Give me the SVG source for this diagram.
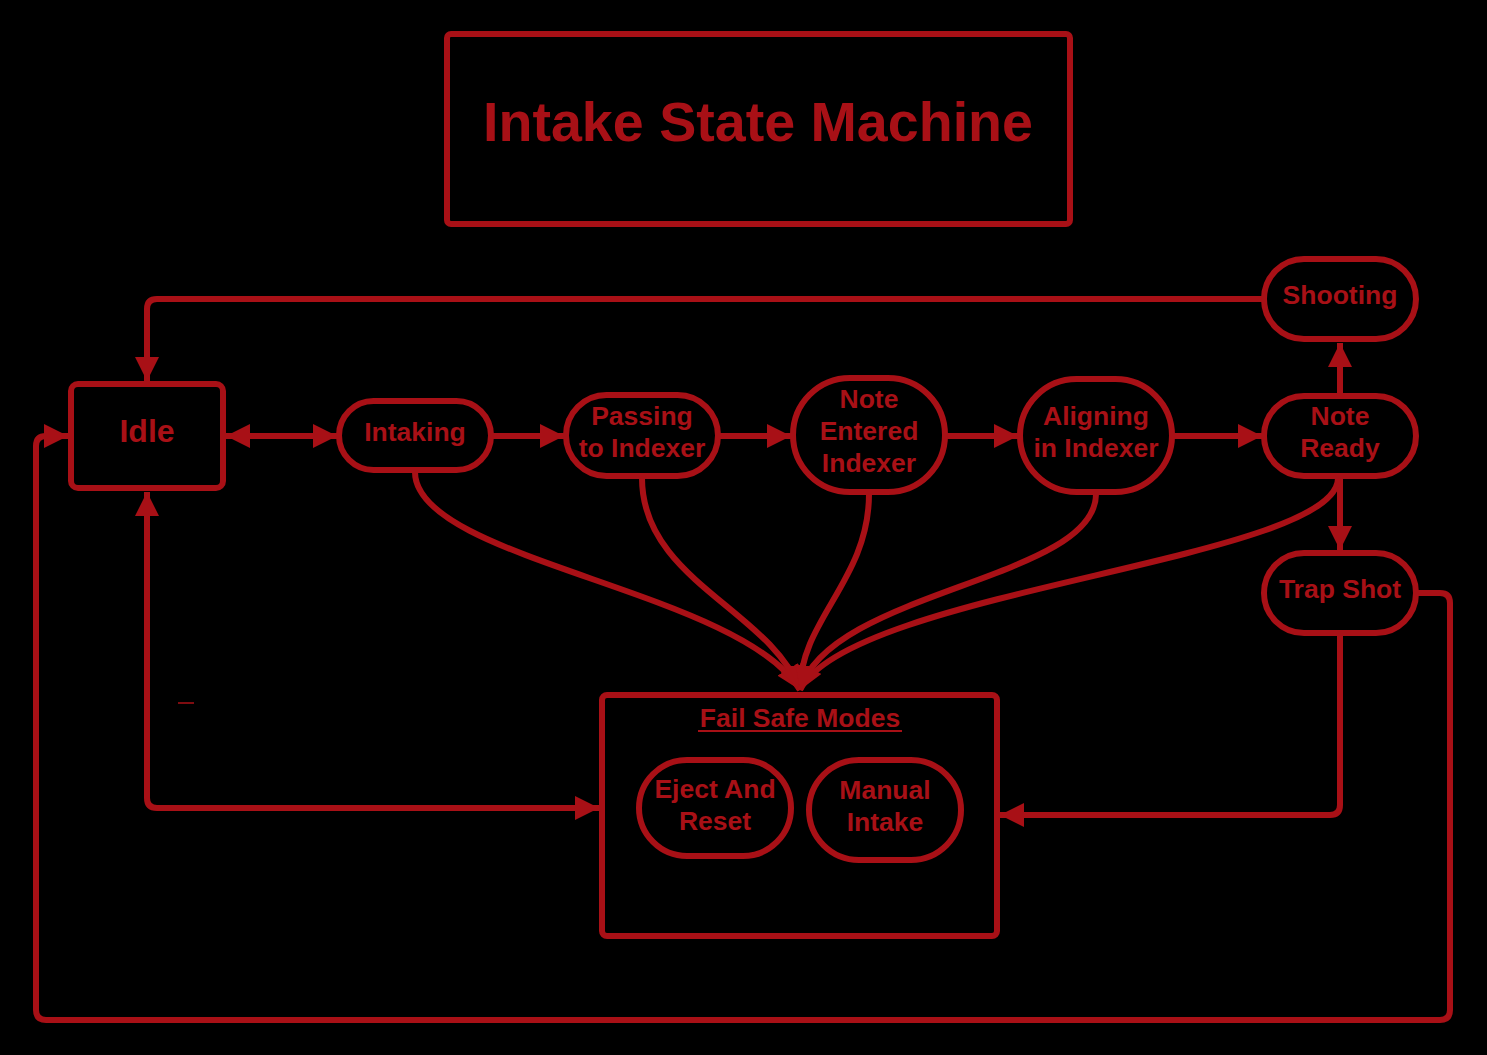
<svg xmlns="http://www.w3.org/2000/svg" width="1487" height="1055" viewBox="0 0 1487 1055">
<style>
.n{fill:none;stroke:#a81016;stroke-width:6}
.c{fill:none;stroke:#a81016;stroke-width:6;stroke-linejoin:round}
.t{fill:#a81016;font-family:"Liberation Sans",Arial,sans-serif;font-weight:bold;font-size:26.5px;text-anchor:middle}
</style>
<defs>
<marker id="a" markerUnits="userSpaceOnUse" viewBox="0 0 24 24" refX="24" refY="12" markerWidth="24" markerHeight="24" orient="auto-start-reverse">
<path d="M0,0 L24,12 L0,24 z" fill="#a81016"/>
</marker>
</defs>
<rect width="1487" height="1055" fill="#000"/>
<g id="title">
<rect class="n" x="447" y="34" width="623" height="190" rx="4"/>
<text class="t" x="758" y="141" style="font-size:55.6px">Intake State Machine</text>
</g>
<g id="connectors">
<path class="c" d="M1262,299 H157 Q147,299 147,309 V381" marker-end="url(#a)"/>
<path class="c" d="M226,436 H337" marker-start="url(#a)" marker-end="url(#a)"/>
<path class="c" d="M491,436 H564" marker-end="url(#a)"/>
<path class="c" d="M718,436 H791" marker-end="url(#a)"/>
<path class="c" d="M945,436 H1018" marker-end="url(#a)"/>
<path class="c" d="M1172,436 H1262" marker-end="url(#a)"/>
<path class="c" d="M1340,395 V343" marker-end="url(#a)"/>
<path class="c" d="M1340,477 V550" marker-end="url(#a)"/>
<path class="c" d="M415,472 C415,560 740,590 800,690" marker-end="url(#a)"/>
<path class="c" d="M642,478 C642,580 770,610 800,690" marker-end="url(#a)"/>
<path class="c" d="M869,494 C869,580 800,620 800,690" marker-end="url(#a)"/>
<path class="c" d="M1096,494 C1096,580 830,590 800,690" marker-end="url(#a)"/>
<path class="c" d="M1338,478 C1338,560 850,590 800,690" marker-end="url(#a)"/>
<path class="c" d="M1340,634 V805 Q1340,815 1330,815 H1000" marker-end="url(#a)"/>
<path class="c" d="M147,492 V798 Q147,808 157,808 H599" marker-start="url(#a)" marker-end="url(#a)"/>
<path class="c" d="M1418,593 H1440 Q1450,593 1450,603 V1010 Q1450,1020 1440,1020 H46 Q36,1020 36,1010 V446 Q36,436 46,436 H68" marker-end="url(#a)"/>
<line x1="178" y1="703" x2="194" y2="703" stroke="#a81016" stroke-width="1.5"/>
</g>
<g id="idle">
<rect class="n" x="71" y="384" width="152" height="104" rx="7"/>
<text class="t" x="147" y="442" style="font-size:32px">Idle</text>
</g>
<g id="intaking">
<rect class="n" x="339" y="401" width="152" height="69" rx="34.5"/>
<text class="t" x="415" y="441">Intaking</text>
</g>
<g id="passing">
<rect class="n" x="566" y="395" width="152" height="81" rx="40.5"/>
<text class="t" x="642" y="425">Passing</text>
<text class="t" x="642" y="457">to Indexer</text>
</g>
<g id="noteEntered">
<rect class="n" x="793" y="378" width="152" height="114" rx="57"/>
<text class="t" x="869" y="408">Note</text>
<text class="t" x="869" y="440">Entered</text>
<text class="t" x="869" y="472">Indexer</text>
</g>
<g id="aligning">
<rect class="n" x="1020" y="379" width="152" height="113" rx="56.5"/>
<text class="t" x="1096" y="425">Aligning</text>
<text class="t" x="1096" y="457">in Indexer</text>
</g>
<g id="noteReady">
<rect class="n" x="1264" y="396" width="152" height="80" rx="40"/>
<text class="t" x="1340" y="425">Note</text>
<text class="t" x="1340" y="457">Ready</text>
</g>
<g id="shooting">
<rect class="n" x="1264" y="259" width="152" height="80" rx="40"/>
<text class="t" x="1340" y="304">Shooting</text>
</g>
<g id="trapShot">
<rect class="n" x="1264" y="553" width="152" height="80" rx="40"/>
<text class="t" x="1340" y="598">Trap Shot</text>
</g>
<g id="failSafe">
<rect class="n" x="602" y="695" width="395" height="241" rx="5"/>
<text class="t" x="800" y="727">Fail Safe Modes</text>
<line x1="698" y1="731" x2="902" y2="731" stroke="#a81016" stroke-width="2"/>
</g>
<g id="eject">
<rect class="n" x="639" y="760" width="152" height="96" rx="48"/>
<text class="t" x="715" y="798">Eject And</text>
<text class="t" x="715" y="830">Reset</text>
</g>
<g id="manual">
<rect class="n" x="809" y="760" width="152" height="100" rx="50"/>
<text class="t" x="885" y="799">Manual</text>
<text class="t" x="885" y="831">Intake</text>
</g>
</svg>
